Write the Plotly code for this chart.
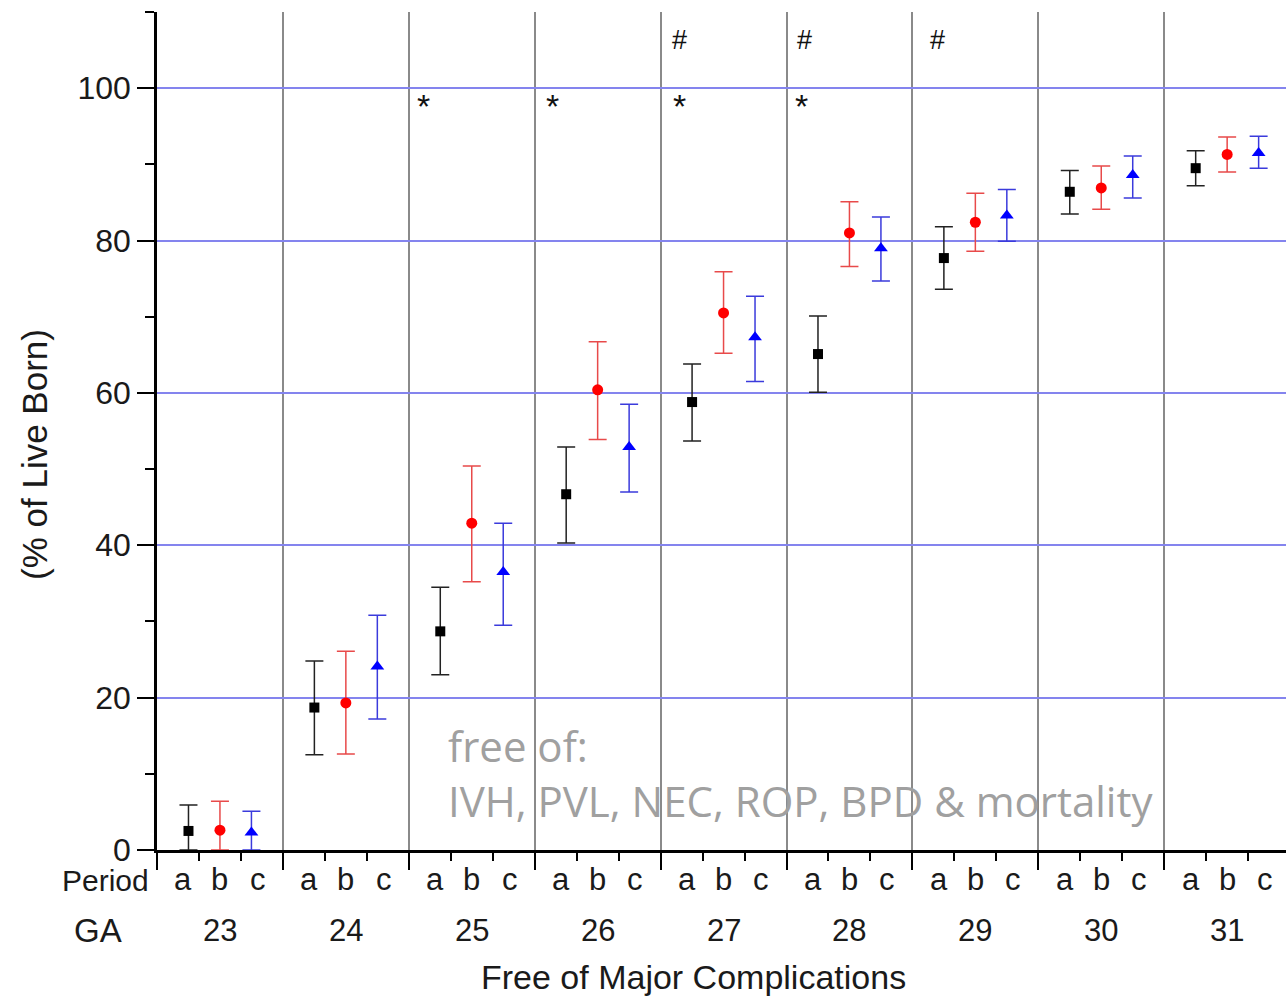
import plotly.graph_objects as go

# ---- data ----
ga_labels = ["23", "24", "25", "26", "27", "28", "29", "30", "31"]
period_labels = ["a", "b", "c"]

a_val = [2.5, 18.7, 28.7, 46.7, 58.8, 65.1, 77.7, 86.4, 89.5]
a_hi = [5.9, 24.8, 34.5, 52.9, 63.8, 70.1, 81.8, 89.2, 91.8]
a_lo = [0.0, 12.5, 23.0, 40.3, 53.7, 60.1, 73.6, 83.5, 87.2]

b_val = [2.6, 19.3, 42.9, 60.4, 70.5, 81.0, 82.4, 86.9, 91.3]
b_hi = [6.4, 26.1, 50.4, 66.7, 75.9, 85.1, 86.2, 89.8, 93.6]
b_lo = [0.0, 12.6, 35.2, 53.9, 65.2, 76.6, 78.6, 84.1, 89.0]

c_val = [2.3, 24.1, 36.5, 52.9, 67.3, 79.0, 83.3, 88.6, 91.5]
c_hi = [5.1, 30.8, 42.9, 58.5, 72.7, 83.1, 86.7, 91.1, 93.7]
c_lo = [0.0, 17.2, 29.5, 47.0, 61.5, 74.7, 79.9, 85.6, 89.5]

star_groups = ["25", "26", "27", "28"]
hash_groups = ["27", "28", "29"]

note_line1 = "free of:"
note_line2 = "IVH, PVL, NEC, ROP, BPD &amp; mortality"

# ---- layout helpers ----
W, H = 1286, 1001
L, R, T, B = 157, 0, 12, 151
group_px = 125.9
x_max = (W - L - R) / group_px

offsets = {"a": 0.25, "b": 0.5, "c": 0.75}
label_offsets = {"a": 0.21, "b": 0.5, "c": 0.8}

series = [
    ("a", a_val, a_hi, a_lo, "square", 10, "#000000", "#222222"),
    ("b", b_val, b_hi, b_lo, "circle", 11, "#ff0000", "#e84a4a"),
    ("c", c_val, c_hi, c_lo, "triangle-up", 12, "#0000ff", "#3b3bdc"),
]

fig = go.Figure()
for name, vals, hi, lo, sym, size, col, ecol in series:
    xs = [i + offsets[name] for i in range(len(ga_labels))]
    fig.add_trace(go.Scatter(
        x=xs, y=vals, mode="markers", name=name, showlegend=False,
        marker=dict(symbol=sym, size=size, color=col, line=dict(width=0)),
        error_y=dict(type="data", symmetric=False,
                     array=[h - v for h, v in zip(hi, vals)],
                     arrayminus=[v - l for v, l in zip(vals, lo)],
                     color=ecol, thickness=1.5, width=9),
        cliponaxis=False,
    ))

font_main = "Arial, Liberation Sans, Helvetica, sans-serif"

annotations = []
# period labels row and GA row
for i, g in enumerate(ga_labels):
    for p in period_labels:
        annotations.append(dict(x=i + label_offsets[p], y=-29 / 838, xref="x", yref="paper",
                                text=p, showarrow=False, xanchor="center", yanchor="middle",
                                font=dict(family=font_main, size=31, color="#1a1a1a")))
    annotations.append(dict(x=i + 0.5, y=-80 / 838, xref="x", yref="paper",
                            text=g, showarrow=False, xanchor="center", yanchor="middle",
                            font=dict(family=font_main, size=31, color="#1a1a1a")))

annotations.append(dict(x=-6 / 1129, y=-30 / 838, xref="paper", yref="paper", text="Period",
                        showarrow=False, xanchor="right", yanchor="middle",
                        font=dict(family=font_main, size=30, color="#1a1a1a")))
annotations.append(dict(x=-59 / 1129, y=-80 / 838, xref="paper", yref="paper", text="GA",
                        showarrow=False, xanchor="center", yanchor="middle",
                        font=dict(family=font_main, size=33, color="#1a1a1a")))
annotations.append(dict(x=(693 - L) / 1129, y=-127 / 838, xref="paper", yref="paper",
                        text="Free of Major Complications", showarrow=False,
                        xanchor="center", yanchor="middle",
                        font=dict(family=font_main, size=34, color="#1a1a1a")))
annotations.append(dict(x=(35 - L) / 1129, y=(850 - 455) / 838, xref="paper", yref="paper",
                        text="(% of Live Born)", showarrow=False, textangle=-90,
                        xanchor="center", yanchor="middle",
                        font=dict(family=font_main, size=35, color="#1a1a1a")))

star_off = {"25": 0.12, "26": 0.14, "27": 0.15, "28": 0.12}
hash_off = {"27": 0.15, "28": 0.14, "29": 0.2}
for g in star_groups:
    annotations.append(dict(x=ga_labels.index(g) + star_off[g], y=97.6, xref="x", yref="y",
                            text="*", showarrow=False, xanchor="center", yanchor="middle",
                            font=dict(family=font_main, size=34, color="#111111")))
for g in hash_groups:
    annotations.append(dict(x=ga_labels.index(g) + hash_off[g], y=106.3, xref="x", yref="y",
                            text="#", showarrow=False, xanchor="center", yanchor="middle",
                            font=dict(family=font_main, size=27, color="#111111")))

note_font = dict(family="Open Sans, Lato, sans-serif", size=42, color="#a0a0a0")
annotations.append(dict(x=(446 - L) / group_px, y=(850 - 745) / 7.618, xref="x", yref="y",
                        text=note_line1, showarrow=False, xanchor="left", yanchor="middle",
                        font=note_font))
annotations.append(dict(x=(446 - L) / group_px, y=(850 - 800) / 7.618, xref="x", yref="y",
                        text=note_line2, showarrow=False, xanchor="left", yanchor="middle",
                        font=note_font))

fig.update_layout(
    width=W, height=H,
    margin=dict(l=L, r=R, t=T, b=B, pad=0),
    paper_bgcolor="white", plot_bgcolor="white",
    annotations=annotations,
    xaxis=dict(
        range=[0, x_max], showline=True, linecolor="black", linewidth=2.5,
        tickmode="array", tickvals=list(range(len(ga_labels) + 1)),
        ticks="outside", ticklen=17, tickwidth=2, tickcolor="black",
        showticklabels=False,
        showgrid=True, gridcolor="#8a8a8a", gridwidth=2,
        zeroline=False,
        minor=dict(tickmode="array",
                   tickvals=[i + k / 3 for i in range(len(ga_labels)) for k in (1, 2)],
                   ticks="outside", ticklen=8, tickwidth=2, tickcolor="black",
                   showgrid=False),
    ),
    yaxis=dict(
        range=[0, 110], showline=True, linecolor="black", linewidth=2.5,
        tickmode="array", tickvals=[0, 20, 40, 60, 80, 100],
        ticks="outside", ticklen=17, tickwidth=2, tickcolor="black",
        tickfont=dict(family=font_main, size=32, color="#1a1a1a"),
        showgrid=True, gridcolor="#8484ee", gridwidth=1.5,
        zeroline=False,
        minor=dict(tickmode="array", tickvals=[10, 30, 50, 70, 90, 110],
                   ticks="outside", ticklen=9, tickwidth=2, tickcolor="black",
                   showgrid=False),
    ),
)

fig.write_html("out.html")
